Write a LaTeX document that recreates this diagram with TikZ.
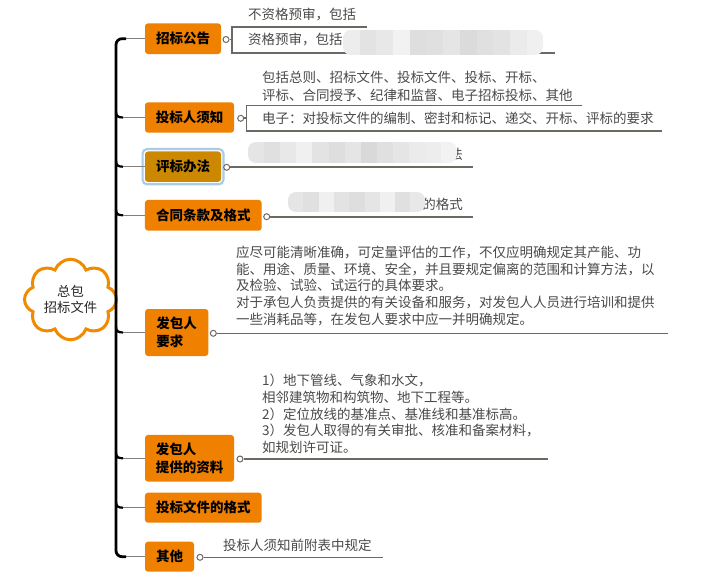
\documentclass[tikz,border=0pt]{standalone}
\usepackage{fontspec}
\newfontfamily\cjk{Noto Sans CJK SC}
\usetikzlibrary{shapes.symbols}
\definecolor{boxorange}{HTML}{F08000}
\definecolor{gold}{HTML}{CC8800}
\definecolor{ring}{HTML}{A8CCE8}
\definecolor{linegray}{HTML}{6E6862}
\definecolor{txtgray}{HTML}{4A4A4A}
\definecolor{cloudor}{HTML}{F08A00}
\begin{document}
\begin{tikzpicture}[x=1pt,y=-1pt,
  topic/.style={fill=boxorange, rounded corners=3pt, inner sep=0pt, text=black,
    font=\cjk\bfseries\fontsize{13.5}{17.8}\selectfont, align=left},
  detail/.style={inner sep=0pt, text=txtgray, font=\cjk\fontsize{13.5}{17}\selectfont, align=left},
  branch/.style={draw=linegray!85, line width=1.4pt},
  spine/.style={draw=black, line width=2.8pt},
  uline/.style={draw=linegray, line width=1.6pt},
  fold/.style={circle, draw=linegray, fill=white, line width=1pt, minimum size=6pt, inner sep=0pt},
]
\useasboundingbox (0,0) rectangle (706,580);
\fill[white] (0,0) rectangle (706,580);

% central cloud
\node[cloud, cloud puffs=8, cloud puff arc=140, aspect=1.15, draw=cloudor, line width=3pt,
  fill=white, minimum width=92pt, minimum height=79pt, inner sep=0pt, align=center,
  font=\cjk\fontsize{13.3}{16}\selectfont, text=black!85] (root) at (70.5,299.5) {总包\\招标文件};

% topics
\node[topic, minimum width=76pt, minimum height=30.7pt] (b1) at (183,38.7) {招标公告};
\node[topic, minimum width=89pt, minimum height=30.4pt] (b2) at (189.5,117.5) {投标人须知};
\node[topic, fill=gold, minimum width=76pt, minimum height=30.5pt] (b3) at (183,166.7) {评标办法};
\node[topic, minimum width=116.7pt, minimum height=30.7pt] (b4) at (203.3,215.3) {合同条款及格式};
\node[topic, minimum width=63.3pt, minimum height=47pt] (b5) at (176.7,332.5) {发包人\\要求};
\node[topic, minimum width=89pt, minimum height=46.7pt] (b6) at (189.5,458.3) {发包人\\提供的资料};
\node[topic, minimum width=116.7pt, minimum height=30pt] (b7) at (203.3,507.7) {投标文件的格式};
\node[topic, minimum width=49pt, minimum height=30pt] (b8) at (169.5,556.7) {其他};
\draw[ring, line width=2.2pt, rounded corners=4.5pt]
  ([shift={(-2.2,-2.2)}]b3.north west) rectangle ([shift={(2.2,2.2)}]b3.south east);

% spine
\coordinate (st) at (126,38.7);
\coordinate (sm) at (116,300);
\coordinate (sb) at (126,556.7);
\draw[branch] (st) -- (b1);
\draw[branch] (sb) -- (b8);
\foreach \n/\yy in {2/117.5,3/166.7,4/215.3,5/332.5,6/458.3,7/507.7}{
  \coordinate (j\n) at (116,\yy);
  \draw[branch] (j\n) -- (b\n);
  \draw[spine, line width=2.2pt] (116,\yy-6) .. controls (116,\yy-1.5) and (118,\yy) .. (123,\yy);
}
\draw[spine, rounded corners=6pt] (st) -| (sm) |- (sb);

% fold markers and underlines
\node[fold] (f1) at (226,39.5) {};
\coordinate (u1) at (232,39.5);
\coordinate (u1t) at (232,27); \coordinate (u1te) at (367,27);
\coordinate (u1b) at (232,53.3); \coordinate (u1be) at (555,53.3);
\draw[uline] (f1) -- (u1);
\draw[uline] (u1te) -- (u1t) -- (u1b) -- (u1be);

\node[fold] (f2) at (240.7,118.3) {};
\coordinate (u2) at (246.5,118.3);
\coordinate (u2t) at (246.5,105.5); \coordinate (u2te) at (582,105.5);
\coordinate (u2b) at (246.5,131); \coordinate (u2be) at (662,131);
\draw[uline] (f2) -- (u2);
\draw[uline] (u2te) -- (u2t) -- (u2b) -- (u2be);

\node[fold] (f3) at (226.7,167.3) {};
\coordinate (u3) at (473,167.3);
\draw[uline] (f3) -- (u3);

\node[fold] (f4) at (266.7,216.7) {};
\coordinate (u4) at (473,216.7);
\draw[uline] (f4) -- (u4);

\node[fold] (f5) at (213.3,333.3) {};
\coordinate (u5) at (668,333.3);
\draw[uline] (f5) -- (u5);

\node[fold] (f6) at (240,459) {};
\coordinate (u6) at (548,459);
\draw[uline] (f6) -- (u6);

\node[fold] (f8) at (200,557.3) {};
\coordinate (u8) at (383,557.3);
\draw[uline] (f8) -- (u8);

% detail texts
\node[detail, anchor=west] (t1a) at (248,15) {不资格预审，包括};
\node[detail, anchor=west] (t1b) at (248,40) {资格预审，包括};
\node[detail, anchor=north west, font=\cjk\fontsize{13.5}{17.7}\selectfont] (t2a) at (262,71.3)
  {包括总则、招标文件、投标文件、投标、开标、\\评标、合同授予、纪律和监督、电子招标投标、其他};
\node[detail, anchor=west] (t2b) at (262,118) {电子：对投标文件的编制、密封和标记、递交、开标、评标的要求};
\node[detail, anchor=east] (t3) at (463,154) {法};
\node[detail, anchor=east] (t4) at (463,204) {的格式};
\node[detail, anchor=north west, font=\cjk\fontsize{13.5}{16.7}\selectfont] (t5) at (236,245.7)
  {应尽可能清晰准确，可定量评估的工作，不仅应明确规定其产能、功\\
   能、用途、质量、环境、安全，并且要规定偏离的范围和计算方法，以\\
   及检验、试验、试运行的具体要求。\\
   对于承包人负责提供的有关设备和服务，对发包人人员进行培训和提供\\
   一些消耗品等，在发包人要求中应一并明确规定。};
\node[detail, anchor=north west, font=\cjk\fontsize{13.5}{16.7}\selectfont] (t6) at (262,374)
  {1）地下管线、气象和水文，\\
   相邻建筑物和构筑物、地下工程等。\\
   2）定位放线的基准点、基准线和基准标高。\\
   3）发包人取得的有关审批、核准和备案材料，\\
   如规划许可证。};
\node[detail, anchor=west] (t8) at (223,545) {投标人须知前附表中规定};

% blurred (masked) parts
\begin{scope}
  \clip[rounded corners=8pt] (343,30) rectangle (543,55);
  \foreach \i/\g in {0/14,1/22,2/18,3/10,4/26,5/24,6/20,7/28,8/24,9/22,10/16,11/12}{
    \fill[gray!\g] (343+\i*16.7,30) rectangle (343+\i*16.7+16.8,55);
  }
\end{scope}
\begin{scope}
  \clip[rounded corners=8pt] (248,142) rectangle (457,163);
  \foreach \i/\g in {0/20,1/24,2/18,3/12,4/22,5/26,6/20,7/30,8/24,9/20,10/16,11/14,12/10}{
    \fill[gray!\g] (248+\i*16.1,142) rectangle (248+\i*16.1+16.2,163);
  }
\end{scope}
\begin{scope}
  \clip[rounded corners=8pt] (288,192) rectangle (425,212);
  \foreach \i/\g in {0/20,1/24,2/12,3/22,4/26,5/20,6/12,7/24,8/18}{
    \fill[gray!\g] (288+\i*15.3,192) rectangle (288+\i*15.3+15.4,212);
  }
\end{scope}
\end{tikzpicture}
\end{document}
